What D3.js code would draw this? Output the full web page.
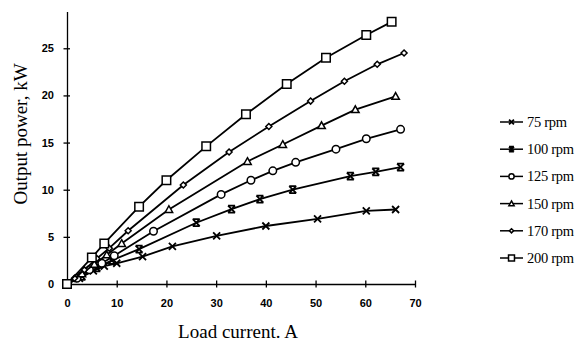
<!DOCTYPE html>
<html>
<head>
<meta charset="utf-8">
<script src="https://cdn.jsdelivr.net/npm/d3@7"></script>
<style>
  body { margin: 0; background: #fff; }
  svg { display: block; }
  .tick text { font-family: Arial, 'Liberation Sans', sans-serif; font-weight: bold; font-size: 11px; }
</style>
</head>
<body>
<div id="graph"></div>
<script>
// series labels and measured points (load current A, output power kW)
const seriesNames = ['75 rpm', '100 rpm', '125 rpm', '150 rpm', '170 rpm', '200 rpm'];
const markerTypes = ['x', 'hourglass', 'circle', 'triangle', 'diamond', 'square'];

const current75 = [0, 2.5, 5.3, 7.5, 10, 15.2, 21.2, 30.1, 40, 50.4, 60.2, 66.1];
const power75 = [0, 0.6, 1.4, 1.9, 2.2, 2.9, 4.0, 5.1, 6.15, 6.9, 7.75, 7.9];

const current100 = [0, 3, 6, 9, 14.5, 26, 33.1, 38.8, 45.4, 57, 62.1, 67.1];
const power100 = [0, 0.8, 1.7, 2.5, 3.7, 6.5, 7.95, 9.0, 10.0, 11.45, 11.9, 12.4];

const current125 = [0, 2, 4.5, 7, 9.5, 17.4, 31, 37, 41.4, 46, 54.1, 60.2, 67.1];
const power125 = [0, 0.6, 1.5, 2.2, 3.0, 5.6, 9.5, 11.0, 12.0, 12.9, 14.3, 15.4, 16.4];

const current150 = [0, 3, 5.5, 8, 11, 20.5, 36.3, 43.4, 51.2, 58, 66.1];
const power150 = [0, 1.1, 2.1, 3.1, 4.3, 7.9, 13.0, 14.8, 16.8, 18.5, 19.9];

const current170 = [0, 1.5, 3.5, 6, 8.5, 12.3, 23.4, 32.6, 40.6, 49, 55.8, 62.4, 67.8];
const power170 = [0, 0.6, 1.5, 2.7, 3.8, 5.65, 10.5, 14.0, 16.7, 19.4, 21.5, 23.3, 24.5];

const current200 = [0, 5, 7.5, 14.5, 20, 28, 36, 44.2, 52.1, 60.2, 65.3];
const power200 = [0, 2.8, 4.3, 8.2, 11, 14.6, 18, 21.2, 24, 26.4, 27.8];

const xTicks = [0, 10, 20, 30, 40, 50, 60, 70];
const yTicks = [0, 5, 10, 15, 20, 25];

const currents = [current75, current100, current125, current150, current170, current200];
const powers = [power75, power100, power125, power150, power170, power200];

const width = 584;
const height = 342;

const svg = d3.select('#graph')
  .append('svg')
  .attr('width', width)
  .attr('height', height);

const x = d3.scaleLinear().domain([0, 70]).range([67, 415]);
const y = d3.scaleLinear().domain([0, 28.9]).range([284, 11.5]);

// axes, ticks cross the axis line
const xAxis = svg.append('g')
  .attr('transform', `translate(0,${y(0)})`)
  .call(d3.axisBottom(x).tickValues(xTicks).tickSizeOuter(0).tickPadding(9));
xAxis.selectAll('.tick line').attr('y1', -3.5).attr('y2', 3.5);

const yAxis = svg.append('g')
  .attr('transform', `translate(${x(0)},0)`)
  .call(d3.axisLeft(y).tickValues(yTicks).tickSizeOuter(0).tickPadding(7));
yAxis.selectAll('.tick line').attr('x1', 3).attr('x2', -3.5);

svg.selectAll('.domain, .tick line').attr('stroke', '#000').attr('stroke-width', 1.3);
svg.selectAll('.tick text').attr('fill', '#000');

svg.append('text')
  .attr('x', 238)
  .attr('y', 338)
  .attr('text-anchor', 'middle')
  .attr('font-family', "'Liberation Serif', 'Times New Roman', serif")
  .attr('font-size', '19px')
  .text('Load current. A');

svg.append('text')
  .attr('transform', 'translate(27,134) rotate(-90)')
  .attr('text-anchor', 'middle')
  .attr('font-family', "'Liberation Serif', 'Times New Roman', serif")
  .attr('font-size', '19px')
  .text('Output power, kW');

// marker shapes drawn around (0,0)
const markerPath = (type, s) => {
  const h = s / 2;
  switch (type) {
    case 'x': return `M${-h},${-h}L${h},${h}M${-h},${h}L${h},${-h}`;
    case 'hourglass': return `M${-h},${-h}L${h},${h}M${-h},${h}L${h},${-h}M${-h},${-h}H${h}M${-h},${h}H${h}`;
    case 'square': return `M${-h},${-h}H${h}V${h}H${-h}Z`;
    case 'triangle': return `M0,${-h}L${h},${h * 0.8}H${-h}Z`;
    case 'diamond': return `M0,${-h}L${h},0L0,${h}L${-h},0Z`;
    default: return null;
  }
};
const markerSize = { x: 7, hourglass: 7, circle: 7.5, triangle: 7.5, diamond: 6, square: 8.5 };

const drawMarker = (g, type, s) => {
  if (type === 'circle') {
    g.append('circle').attr('r', s / 2)
      .attr('fill', '#fff').attr('stroke', '#000').attr('stroke-width', 1.5);
  } else {
    const closed = type !== 'x' && type !== 'hourglass';
    g.append('path').attr('d', markerPath(type, s))
      .attr('fill', closed ? '#fff' : 'none')
      .attr('stroke', '#000')
      .attr('stroke-width', closed ? 1.5 : 1.8);
  }
};

const line = d3.line()
  .x(d => x(d[0]))
  .y(d => y(d[1]));

seriesNames.forEach((name, i) => {
  const pts = currents[i].map((c, j) => [c, powers[i][j]]);
  svg.append('path')
    .datum(pts)
    .attr('fill', 'none')
    .attr('stroke', '#000')
    .attr('stroke-width', 1.8)
    .attr('d', line);
  const marks = svg.append('g').selectAll('g')
    .data(pts)
    .enter()
    .append('g')
    .attr('transform', d => `translate(${x(d[0])},${y(d[1])})`);
  marks.each(function () { drawMarker(d3.select(this), markerTypes[i], markerSize[markerTypes[i]]); });
});

// legend
const legend = svg.append('g');
seriesNames.forEach((name, i) => {
  const ly = 122 + i * 27.2;
  const g = legend.append('g').attr('transform', `translate(0,${ly})`);
  g.append('line').attr('x1', 500).attr('x2', 523).attr('y1', 0).attr('y2', 0)
    .attr('stroke', '#000').attr('stroke-width', 1.5);
  const m = g.append('g').attr('transform', 'translate(511.5,0)');
  drawMarker(m, markerTypes[i], markerSize[markerTypes[i]] * 0.7);
  g.append('text')
    .attr('x', 527)
    .attr('y', 5)
    .attr('font-family', "'Liberation Serif', 'Times New Roman', serif")
    .attr('font-size', '14.5px')
    .attr('letter-spacing', '-0.3px')
    .text(name);
});
</script>
</body>
</html>
